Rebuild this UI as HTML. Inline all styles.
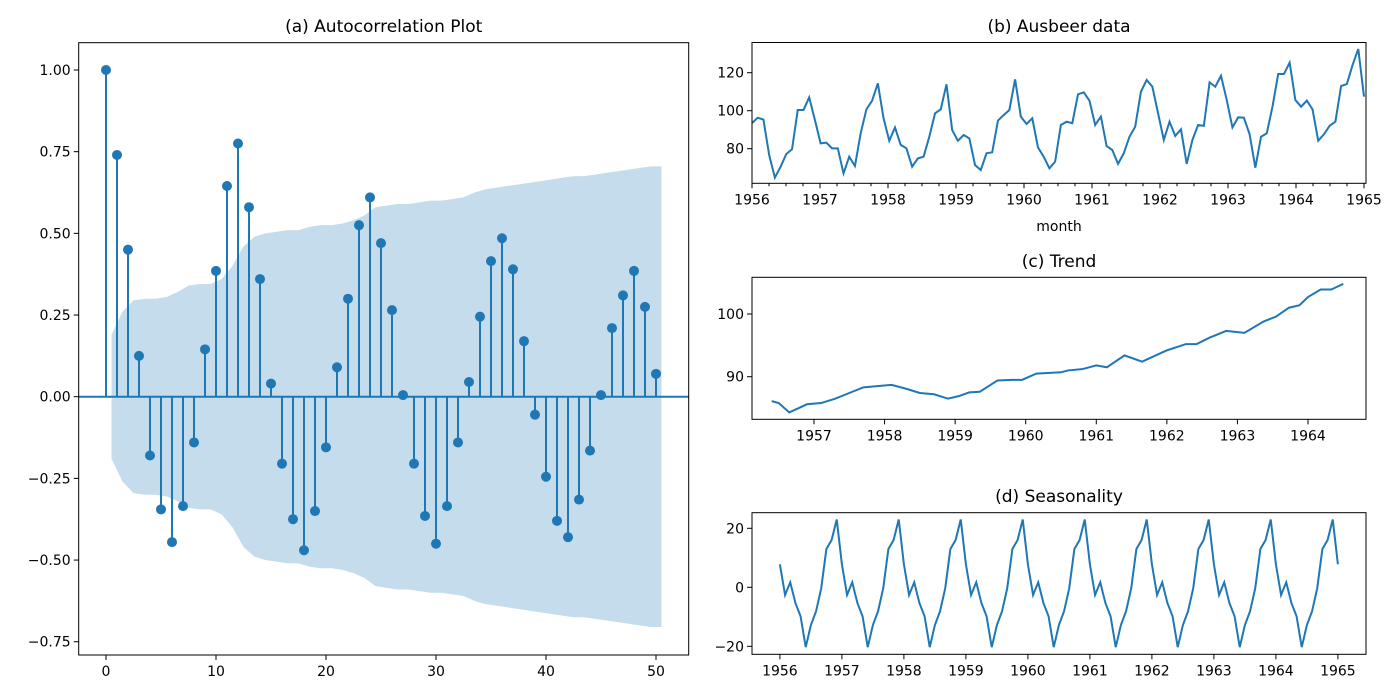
<!DOCTYPE html>
<html><head><meta charset="utf-8"><style>
body{margin:0;background:#fff}
svg{display:block;font-family:"DejaVu Sans","Liberation Sans",sans-serif}
text{fill:#000}
</style></head><body>
<svg id="c" width="1400" height="700" viewBox="0 0 1400 700" xmlns="http://www.w3.org/2000/svg"></svg>
<script>
const acfLags=[...Array(51).keys()];
const acfValues=[1.00,0.74,0.45,0.125,-0.18,-0.345,-0.445,-0.335,-0.14,0.145,0.385,0.645,0.775,0.58,0.36,0.04,-0.205,-0.375,-0.47,-0.35,-0.155,0.09,0.30,0.525,0.61,0.47,0.265,0.005,-0.205,-0.365,-0.45,-0.335,-0.14,0.045,0.245,0.415,0.485,0.39,0.17,-0.055,-0.245,-0.38,-0.43,-0.315,-0.165,0.005,0.21,0.31,0.385,0.275,0.07];
const confBand=[0.19,0.19,0.26,0.295,0.30,0.30,0.305,0.32,0.34,0.345,0.345,0.36,0.40,0.46,0.49,0.50,0.505,0.51,0.51,0.52,0.525,0.525,0.53,0.54,0.555,0.58,0.585,0.59,0.59,0.595,0.60,0.60,0.605,0.61,0.625,0.635,0.64,0.645,0.65,0.655,0.66,0.665,0.67,0.675,0.675,0.68,0.685,0.69,0.695,0.70,0.705];
const acfYTicks=[1.00,0.75,0.50,0.25,0.00,-0.25,-0.50,-0.75];
const acfXTicks=[0,10,20,30,40,50];
const beerValues=[93.5,96.3,95.3,76.7,64.8,70.5,77.2,79.7,100.4,100.4,107.0,95.1,82.8,83.2,80.2,80.2,67.0,75.8,70.9,88.1,100.7,105.3,114.4,96.0,84.2,91.2,82.0,80.2,70.5,74.9,75.8,86.3,98.6,100.7,113.9,89.8,84.2,87.2,85.4,71.4,68.8,77.6,78.1,94.8,97.7,100.4,116.5,96.9,93.0,96.0,80.7,75.8,69.7,73.2,92.5,94.2,93.4,108.6,109.7,105.3,92.5,96.9,81.4,79.3,72.0,77.6,86.3,91.6,110.0,116.2,112.6,98.6,84.6,94.2,86.7,90.2,72.0,84.6,92.5,92.0,114.9,112.6,118.4,105.6,91.2,96.5,96.3,87.6,70.0,86.3,88.1,102.1,119.3,119.3,125.3,105.6,102.1,105.3,100.7,84.2,87.6,92.1,94.2,113.0,114.0,124.0,132.5,107.4];
const beerYTicks=[80,100,120];
const yearTicks=[1956,1957,1958,1959,1960,1961,1962,1963,1964,1965];
const trendTimes=[1956.4,1956.5,1956.65,1956.9,1957.1,1957.3,1957.5,1957.7,1958.1,1958.3,1958.5,1958.7,1958.9,1959.05,1959.2,1959.35,1959.6,1959.8,1959.95,1960.15,1960.5,1960.6,1960.8,1961.0,1961.15,1961.4,1961.65,1962.0,1962.27,1962.42,1962.6,1962.84,1963.1,1963.37,1963.55,1963.73,1963.88,1964.0,1964.18,1964.33,1964.5];
const trendValues=[86.1,85.8,84.3,85.6,85.8,86.5,87.4,88.3,88.7,88.1,87.4,87.2,86.5,86.9,87.5,87.6,89.4,89.5,89.5,90.5,90.7,91.0,91.2,91.8,91.5,93.4,92.4,94.2,95.2,95.2,96.2,97.3,97.0,98.8,99.6,101.0,101.4,102.7,103.9,103.9,104.8];
const trendYTicks=[90,100];
const trendXTicks=[1957,1958,1959,1960,1961,1962,1963,1964];
const seasonPattern=[7.8,-2.6,1.7,-5.3,-9.8,-20.3,-12.8,-8.1,-0.3,13,16,23];
const seasonYTicks=[20,0,-20];

const svg=document.getElementById('c');
const NS='http://www.w3.org/2000/svg';
function el(tag,attrs,parent){const e=document.createElementNS(NS,tag);for(const k in attrs)e.setAttribute(k,attrs[k]);(parent||svg).appendChild(e);return e;}
function txt(x,y,s,anchor,size,parent){const t=el('text',{x:x,y:y,'text-anchor':anchor,'font-size':size},parent);t.textContent=s;return t;}
const C='#1f77b4';

function axes(name){
  const g=el('g',{});
  
  
  return g;
}
function frame(g,L,T,R,B){const r=el('rect',{x:L,y:T,width:R-L,height:B-T,fill:'none',stroke:'#000','stroke-width':1},g);}
function yTick(g,y,label,L){el('line',{x1:L-5,x2:L,y1:y,y2:y,stroke:'#000'},g);const t=txt(L-8,y+5,label,'end',14,g);}
function xTick(g,x,label,B,len){el('line',{x1:x,x2:x,y1:B,y2:B+(len||5),stroke:'#000'},g);if(label!==null){const t=txt(x,B+21,label,'middle',14,g);}}
const fmt2=v=>(v<0?'\u2212':'')+Math.abs(v).toFixed(2);
const fmt0=v=>(v<0?'\u2212':'')+Math.abs(v);

// (a) ACF
{
const L=78.7,T=42.7,R=688.7,B=655;
const xs=v=>106+v*11, ys=v=>396.7-v*326.7;
const g=axes('acf-panel');
let up='',lo='';
for(let i=1;i<confBand.length;i++){up+=(i==1?'M':'L')+xs(i-0.5)+','+ys(confBand[i]);}
up+='L'+xs(50.5)+','+ys(confBand[50]);
lo='L'+xs(50.5)+','+ys(-confBand[50]);
for(let i=confBand.length-1;i>=1;i--){lo+='L'+xs(i-0.5)+','+ys(-confBand[i]);}
const band=el('path',{d:up+lo+'Z',fill:'#c5dcec'},g);


const zl=el('line',{x1:L,x2:R,y1:ys(0),y2:ys(0),stroke:C,'stroke-width':2},g);


acfLags.forEach((k,i)=>{
  const st=el('line',{x1:xs(k),x2:xs(k),y1:ys(0),y2:ys(acfValues[i]),stroke:C,'stroke-width':2},g);
  
  
  const d=el('circle',{cx:xs(k),cy:ys(acfValues[i]),r:5,fill:C},g);
  
  
});
frame(g,L,T,R,B);
acfYTicks.forEach(v=>yTick(g,ys(v),fmt2(v),L));
acfXTicks.forEach(v=>xTick(g,xs(v),String(v),B));
const t=txt((L+R)/2,32,'(a) Autocorrelation Plot','middle',17,g);


}
const RR=1366;
// (b) Ausbeer
{
const L=752,T=42.5,B=183.3;
const xs=v=>752+(v-1956)*68, ys=v=>110.7-(v-100)*1.9;
const g=axes('ausbeer-panel');
const n=beerValues.length;
const pts=beerValues.map((v,i)=>xs(1956+9*i/(n-1))+','+ys(v)).join(' ');
const pl=el('polyline',{points:pts,fill:'none',stroke:C,'stroke-width':2},g);


frame(g,L,T,RR,B);
beerYTicks.forEach(v=>yTick(g,ys(v),String(v),L));
yearTicks.forEach(v=>xTick(g,xs(v),String(v),B,5));
for(let y=1956;y<1965;y++)for(let q=1;q<4;q++)xTick(g,xs(y+q/4),null,B,3);
const xl=txt((L+RR)/2,231,'month','middle',14,g);


const t=txt((L+RR)/2,32,'(b) Ausbeer data','middle',17,g);


}
// (c) Trend
{
const L=752,T=277.3,B=419.3;
const xs=v=>814+(v-1957)*70.57, ys=v=>314-(v-100)*6.27;
const g=axes('trend-panel');
const pts=trendValues.map((v,i)=>xs(trendTimes[i])+','+ys(v)).join(' ');
const pl=el('polyline',{points:pts,fill:'none',stroke:C,'stroke-width':2},g);


frame(g,L,T,RR,B);
trendYTicks.forEach(v=>yTick(g,ys(v),String(v),L));
trendXTicks.forEach(v=>xTick(g,xs(v),String(v),B));
const t=txt((L+RR)/2,267,'(c) Trend','middle',17,g);


}
// (d) Seasonality
{
const L=752,T=512.7,B=654.3;
const xs=v=>779.9+(v-1956)*62.0, ys=v=>587.3-v*2.95;
const g=axes('seasonality-panel');
let pts=[];
for(let i=0;i<=108;i++)pts.push(xs(1956+i/12)+','+ys(seasonPattern[i%12]));
const pl=el('polyline',{points:pts.join(' '),fill:'none',stroke:C,'stroke-width':2},g);


frame(g,L,T,RR,B);
seasonYTicks.forEach(v=>yTick(g,ys(v),fmt0(v),L));
yearTicks.forEach(v=>xTick(g,xs(v),String(v),B));
const t=txt((L+RR)/2,502,'(d) Seasonality','middle',17,g);


}
</script>
</body></html>
